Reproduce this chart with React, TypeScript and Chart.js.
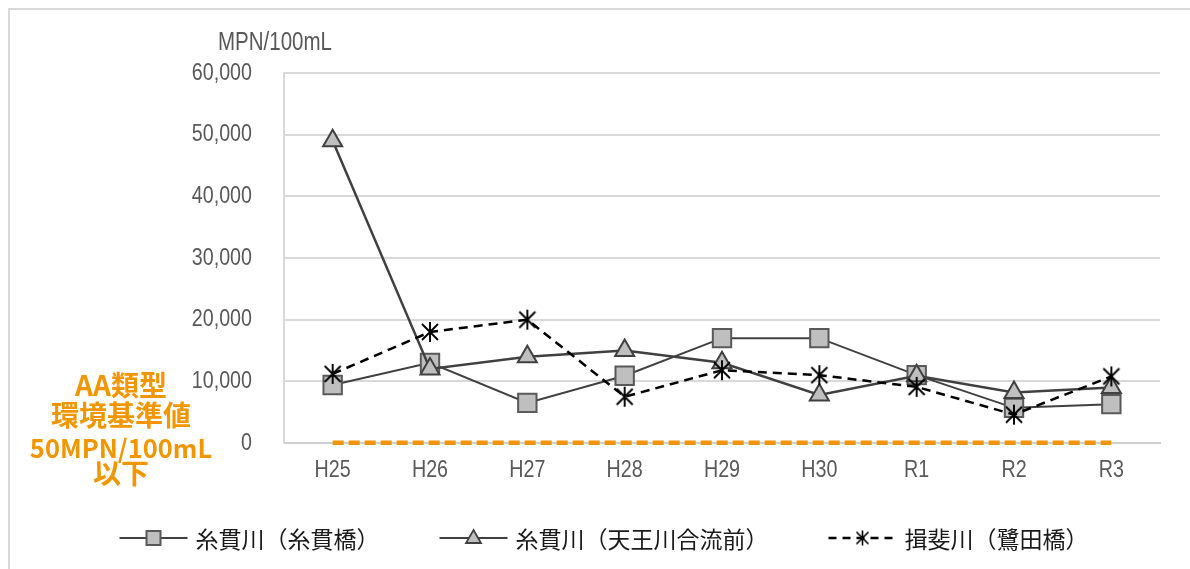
import { useEffect, useRef } from 'react';
import { Chart, registerables } from 'chart.js';

Chart.register(...registerables);

// Fiscal years (Heisei / Reiwa)
const years = ['H25', 'H26', 'H27', 'H28', 'H29', 'H30', 'R1', 'R2', 'R3'];

// Total coliform counts, MPN/100mL
const itonukiBridge = [9400, 13000, 6500, 10900, 17000, 17000, 11000, 5700, 6300];
const itonukiConfluence = [49000, 12000, 14000, 15000, 13000, 7800, 10900, 8200, 9000];
const ibiSagitaBridge = [11200, 18000, 20000, 7500, 11800, 11000, 9100, 4600, 10800];

// Class AA environmental standard: 50 MPN/100mL or less
const standardAA = [50, 50, 50, 50, 50, 50, 50, 50, 50];

const seriesNames = ['糸貫川（糸貫橋）', '糸貫川（天王川合流前）', '揖斐川（鷺田橋）'];
const unitLabel = 'MPN/100mL';
const standardNote = ['AA類型', '環境基準値', '50MPN/100mL', '以下'];

const yMin = 0;
const yMax = 60000;
const yStep = 10000;

const LATIN = "'Liberation Sans', Arial, sans-serif";
const CJK = "'Noto Sans CJK JP', 'Noto Sans', sans-serif";
const AXIS_GREY = '#595959';
const ORANGE = '#F29600';
const NARROW = 0.82; // horizontal squeeze for the narrow axis lettering

function makeAsterisk(size: number, lineWidth: number): HTMLCanvasElement {
  const c = document.createElement('canvas');
  c.width = size;
  c.height = size;
  const ctx = c.getContext('2d')!;
  const m = size / 2;
  const r = size / 2 - 1;
  ctx.strokeStyle = '#000000';
  ctx.lineWidth = lineWidth;
  ctx.beginPath();
  ctx.moveTo(m, m - r);
  ctx.lineTo(m, m + r);
  ctx.moveTo(m - r * 0.8, m - r * 0.8);
  ctx.lineTo(m + r * 0.8, m + r * 0.8);
  ctx.moveTo(m + r * 0.8, m - r * 0.8);
  ctx.lineTo(m - r * 0.8, m + r * 0.8);
  ctx.stroke();
  return c;
}

function narrowText(
  ctx: CanvasRenderingContext2D,
  text: string,
  x: number,
  y: number,
  align: CanvasTextAlign
) {
  ctx.save();
  ctx.translate(x, y);
  ctx.scale(NARROW, 1);
  ctx.textAlign = align;
  ctx.textBaseline = 'middle';
  ctx.fillText(text, 0, 0);
  ctx.restore();
}

export default function App() {
  const canvasRef = useRef<HTMLCanvasElement | null>(null);

  useEffect(() => {
    const canvas = canvasRef.current;
    if (!canvas) return;

    const asterisk = makeAsterisk(22, 1.9);
    const asteriskSmall = makeAsterisk(17, 1.6);

    const overlay = {
      id: 'overlay',
      beforeDraw(chart: Chart) {
        const ctx = chart.ctx;
        ctx.save();
        ctx.fillStyle = '#ffffff';
        ctx.fillRect(0, 0, chart.width, chart.height);
        // outer frame
        ctx.strokeStyle = '#d9d9d9';
        ctx.lineWidth = 2;
        ctx.beginPath();
        ctx.moveTo(9, chart.height);
        ctx.lineTo(9, 9);
        ctx.lineTo(chart.width, 9);
        ctx.stroke();
        ctx.restore();
      },
      afterDraw(chart: Chart) {
        const ctx = chart.ctx;
        const area = chart.chartArea;
        const xScale: any = chart.scales.x;
        const yScale: any = chart.scales.y;
        ctx.save();

        // axis labels
        ctx.fillStyle = AXIS_GREY;
        ctx.font = `24px ${LATIN}`;
        yScale.ticks.forEach((t: any) => {
          narrowText(ctx, Number(t.value).toLocaleString('en-US'), area.left - 32, yScale.getPixelForValue(t.value), 'right');
        });
        years.forEach((label, i) => {
          narrowText(ctx, label, xScale.getPixelForValue(i), 470, 'center');
        });

        // unit label above the value axis
        ctx.font = `25px ${LATIN}`;
        narrowText(ctx, unitLabel, 218, 43, 'left');

        // standard note at the left of the zero line
        ctx.fillStyle = ORANGE;
        ctx.textAlign = 'center';
        ctx.textBaseline = 'middle';
        const noteY = [385, 415, 448, 473];
        const noteSize = [28, 28, 25.5, 28];
        standardNote.forEach((t, i) => {
          ctx.font = `bold ${noteSize[i]}px ${CJK}`;
          ctx.fillText(t, 121, noteY[i]);
        });

        // legend: line + marker + name for each series
        const legendY = 538;
        ctx.font = `23px ${CJK}`;
        const lineLen = 68;
        const textGap = 8;
        const itemGap = 60;
        const widths = seriesNames.map((n) => ctx.measureText(n).width);
        const total = widths.reduce((a, w) => a + lineLen + textGap + w, 0) + itemGap * (seriesNames.length - 1);
        let x = (chart.width - total) / 2 + 9;
        seriesNames.forEach((name, i) => {
          const cx = x + lineLen / 2;
          ctx.save();
          ctx.lineWidth = i === 2 ? 2.5 : 2;
          ctx.strokeStyle = i === 2 ? '#000000' : '#404040';
          ctx.setLineDash(i === 2 ? [8, 6] : []);
          ctx.beginPath();
          ctx.moveTo(x, legendY);
          ctx.lineTo(x + lineLen, legendY);
          ctx.stroke();
          ctx.restore();
          ctx.save();
          if (i === 0) {
            ctx.fillStyle = '#bfbfbf';
            ctx.strokeStyle = '#595959';
            ctx.lineWidth = 2;
            ctx.fillRect(cx - 7, legendY - 7, 14, 14);
            ctx.strokeRect(cx - 7, legendY - 7, 14, 14);
          } else if (i === 1) {
            ctx.fillStyle = '#bfbfbf';
            ctx.strokeStyle = '#404040';
            ctx.lineWidth = 1.8;
            ctx.beginPath();
            ctx.moveTo(cx, legendY - 8);
            ctx.lineTo(cx + 7.5, legendY + 5);
            ctx.lineTo(cx - 7.5, legendY + 5);
            ctx.closePath();
            ctx.fill();
            ctx.stroke();
          } else {
            ctx.drawImage(asteriskSmall, cx - asteriskSmall.width / 2, legendY - asteriskSmall.height / 2);
          }
          ctx.restore();
          ctx.fillStyle = '#1a1a1a';
          ctx.font = `23px ${CJK}`;
          ctx.textAlign = 'left';
          ctx.textBaseline = 'middle';
          ctx.fillText(name, x + lineLen + textGap, legendY + 1);
          x += lineLen + textGap + widths[i] + itemGap;
        });
        ctx.restore();
      },
    };

    const chart = new Chart(canvas, {
      type: 'line',
      data: {
        labels: years,
        datasets: [
          {
            label: seriesNames[0],
            data: itonukiBridge,
            borderColor: '#404040',
            borderWidth: 2,
            pointStyle: 'rect',
            pointRadius: 13,
            pointBackgroundColor: '#bfbfbf',
            pointBorderColor: '#595959',
            pointBorderWidth: 2,
            tension: 0,
            order: 3,
          },
          {
            label: seriesNames[1],
            data: itonukiConfluence,
            borderColor: '#404040',
            borderWidth: 2.5,
            pointStyle: 'triangle',
            pointRadius: 11,
            pointBackgroundColor: '#bfbfbf',
            pointBorderColor: '#404040',
            pointBorderWidth: 2,
            tension: 0,
            order: 2,
          },
          {
            label: seriesNames[2],
            data: ibiSagitaBridge,
            borderColor: '#000000',
            borderWidth: 2.5,
            borderDash: [9, 6],
            pointStyle: asterisk,
            pointRadius: 11,
            tension: 0,
            order: 1,
          },
          {
            label: 'AA',
            data: standardAA,
            borderColor: ORANGE,
            borderWidth: 4.5,
            borderDash: [11, 5],
            pointRadius: 0,
            tension: 0,
            clip: false,
            order: 4,
          },
        ],
      },
      options: {
        animation: false,
        responsive: false,
        maintainAspectRatio: false,
        layout: { padding: { top: 73, right: 30, left: 0, bottom: 0 } },
        plugins: {
          legend: { display: false },
          tooltip: { enabled: false },
          title: { display: false },
        },
        scales: {
          x: {
            offset: true,
            grid: { display: false, drawTicks: false, tickLength: 0 },
            border: { display: true, color: '#cfcfcf', width: 2 },
            ticks: { display: false },
            afterFit(scale: any) {
              scale.height = 126;
            },
          },
          y: {
            min: yMin,
            max: yMax,
            grid: { color: '#d9d9d9', lineWidth: 2, drawTicks: false, tickLength: 0 },
            border: { display: true, color: '#d9d9d9', width: 2 },
            ticks: { display: false, stepSize: yStep },
            afterFit(scale: any) {
              scale.width = 284;
            },
          },
        },
      },
      plugins: [overlay],
    });

    return () => chart.destroy();
  }, []);

  return (
    <div style={{ position: 'fixed', left: 0, top: 0, width: 1190, height: 569, background: '#ffffff' }}>
      <canvas ref={canvasRef} width={1190} height={569} style={{ display: 'block', width: 1190, height: 569 }} />
    </div>
  );
}
